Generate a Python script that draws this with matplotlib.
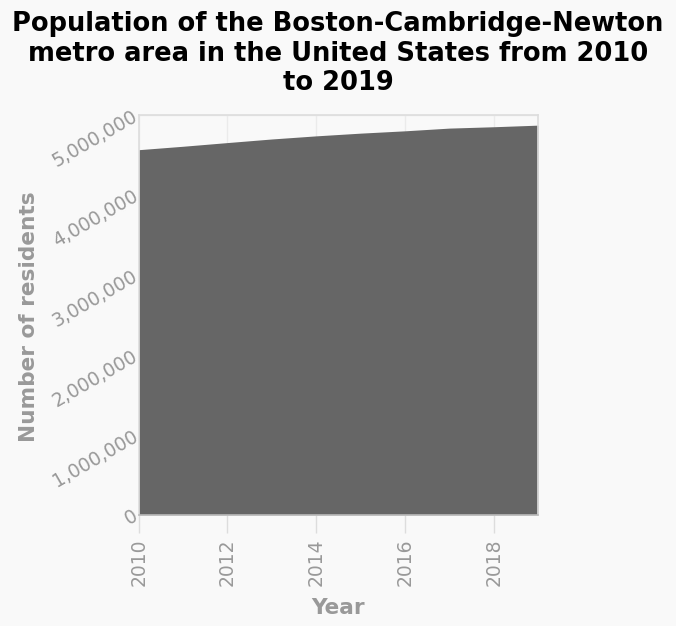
import matplotlib
matplotlib.use("Agg")
import matplotlib.pyplot as plt
from matplotlib.ticker import FuncFormatter

years = [2010, 2011, 2012, 2013, 2014, 2015, 2016, 2017, 2018, 2019]
population = [4566000, 4609000, 4655000, 4700000, 4739000, 4773000, 4802000, 4836000, 4853000, 4873000]
x_ticks = [2010, 2012, 2014, 2016, 2018]
y_ticks = [0, 1000000, 2000000, 3000000, 4000000, 5000000]

bg = "#f9f9f9"
fig = plt.figure(figsize=(6.76, 6.26), dpi=100, facecolor=bg)
ax = fig.add_axes([0.2052, 0.1778, 0.5907, 0.6385], facecolor=bg)

ax.fill_between(years, population, 0, color="#666666", linewidth=0, zorder=2)
ax.set_xlim(2010, 2019)
ax.set_ylim(0, 5000000)
ax.set_xticks(x_ticks)
ax.set_yticks(y_ticks)
ax.yaxis.set_major_formatter(FuncFormatter(lambda v, p: f"{int(v):,}"))
ax.grid(True, color="#ebebeb", linewidth=1, zorder=0)
ax.set_axisbelow(True)
for s in ax.spines.values():
    s.set_color("#dddddd")
    s.set_linewidth(1.2)
ax.spines["bottom"].set_color("#bbbbbb")
ax.tick_params(axis="x", colors="#dddddd", labelcolor="#999999", labelsize=13.5,
               length=13, width=1, pad=4.3)
ax.tick_params(axis="y", colors="#dddddd", labelcolor="#999999", labelsize=13.5,
               length=0, pad=1.5)
for lbl in ax.get_xticklabels():
    lbl.set_rotation(90)
for lbl in ax.get_yticklabels():
    lbl.set_rotation(30)
    lbl.set_rotation_mode("anchor")
    lbl.set_ha("right")
    lbl.set_va("center")

ax.set_xlabel("Year", color="#999999", fontsize=15.6, fontweight="bold")
ax.xaxis.set_label_coords(0.5, -0.2475)
ax.xaxis.label.set_va("baseline")
ax.set_ylabel("Number of residents", color="#999999", fontsize=15.6, fontweight="bold")
ax.yaxis.set_label_coords(-0.2607, 0.495)
ax.yaxis.label.set_va("baseline")

fig.text(0.5, 1 - 11 / 626,
         "Population of the Boston-Cambridge-Newton\nmetro area in the United States from 2010\nto 2019",
         fontsize=18.5, fontweight="bold", color="black", ha="center", va="top",
         linespacing=1.18)

fig.savefig("out.png", dpi=100, facecolor=bg)
